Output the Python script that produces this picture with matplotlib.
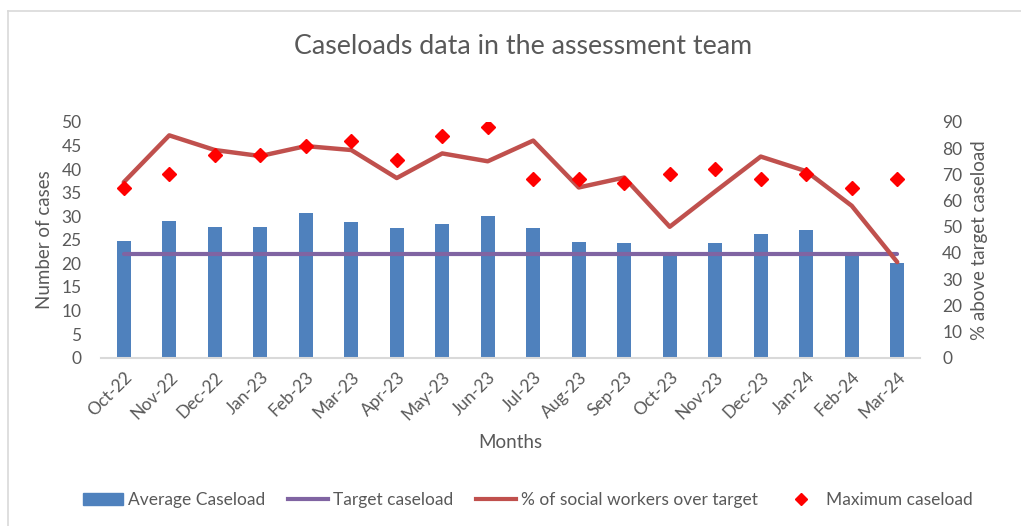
import matplotlib.pyplot as plt
from matplotlib.lines import Line2D
from matplotlib.patches import Patch
import numpy as np

plt.rcParams['font.family'] = ['Lato', 'DejaVu Sans']

months = ['Oct-22', 'Nov-22', 'Dec-22', 'Jan-23', 'Feb-23', 'Mar-23', 'Apr-23', 'May-23', 'Jun-23',
          'Jul-23', 'Aug-23', 'Sep-23', 'Oct-23', 'Nov-23', 'Dec-23', 'Jan-24', 'Feb-24', 'Mar-24']
avg_caseload = [24.8, 29.0, 27.7, 27.7, 30.6, 28.8, 27.5, 28.4, 30.1,
                27.5, 24.6, 24.3, 21.8, 24.3, 26.3, 27.0, 21.9, 20.1]
target_caseload = [22] * 18
pct_over_target = [67.0, 84.9, 79.3, 77.0, 80.8, 79.3, 68.6, 78.0, 75.0,
                   82.9, 65.0, 68.8, 50.0, 63.5, 76.8, 71.2, 58.0, 36.5]
max_caseload = [36, 39, 43, 43, 45, 46, 42, 47, 49, 38, 38, 37, 39, 40, 38, 39, 36, 38]

grey = '#595959'
c_bar = '#4F81BD'
c_target = '#8064A2'
c_pct = '#C0504D'
c_max = '#FF0000'

x = np.arange(len(months))

fig = plt.figure(figsize=(10.21, 5.26), dpi=100)
ax = fig.add_axes([101 / 1021, 1 - 357.7 / 526, 819 / 1021, 235.7 / 526])
ax2 = ax.twinx()

# bars and target on the left axis
ax.bar(x, avg_caseload, width=0.31, color=c_bar, zorder=2)
ax.plot(x, target_caseload, color=c_target, linewidth=3, solid_capstyle='round', zorder=3)

# % line on right axis, diamonds on top of it (left axis scale)
ax2.plot(x, pct_over_target, color=c_pct, linewidth=3.2, solid_capstyle='round', zorder=3)
ax2.plot(x, max_caseload, linestyle='none', marker='D', markersize=7.2, color=c_max,
         transform=ax.transData, zorder=4)

ax.set_xlim(-0.5, len(months) - 0.5)
ax.set_ylim(0, 50)
ax2.set_ylim(0, 90)
ax.set_yticks(range(0, 51, 5))
ax2.set_yticks(range(0, 91, 10))
ax.set_xticks(x)
ax.set_xticklabels(months, rotation=45, ha='right', rotation_mode='anchor')

for a in (ax, ax2):
    for s in a.spines.values():
        s.set_visible(False)
    a.tick_params(length=0, colors=grey, labelsize=12.5)
ax.spines['bottom'].set_visible(True)
ax.spines['bottom'].set_color('#D9D9D9')
ax.spines['bottom'].set_linewidth(1.5)
ax.tick_params(axis='y', pad=14)
ax2.tick_params(axis='y', pad=16)
ax.tick_params(axis='x', pad=8)

ax.set_ylabel('Number of cases', color=grey, fontsize=13.5, labelpad=6)
ax2.set_ylabel('% above target caseload', color=grey, fontsize=13.5, labelpad=6)
ax.set_xlabel('Months', color=grey, fontsize=13.5, labelpad=8)
fig.text(0.512, 1 - 46 / 526, 'Caseloads data in the assessment team', color=grey,
         fontsize=19.3, ha='center', va='center')

handles = [Patch(color=c_bar),
           Line2D([], [], color=c_target, linewidth=3),
           Line2D([], [], color=c_pct, linewidth=3),
           Line2D([], [], linestyle='none', marker='D', markersize=6, color=c_max)]
labels = ['Average Caseload', 'Target caseload', '% of social workers over target', 'Maximum caseload']
leg = fig.legend(handles, labels, loc='center', bbox_to_anchor=(0.517, 1 - 500 / 526), ncol=4,
                 frameon=False, fontsize=12.5, handlelength=2.3, handletextpad=0.3, columnspacing=1.3)
for t in leg.get_texts():
    t.set_color(grey)

# chart border (top and left visible)
fig.add_artist(Line2D([8 / 1021, 8 / 1021], [0, 1 - 11 / 526], transform=fig.transFigure,
                      color='#D9D9D9', linewidth=1.2))
fig.add_artist(Line2D([8 / 1021, 1], [1 - 11 / 526, 1 - 11 / 526], transform=fig.transFigure,
                      color='#D9D9D9', linewidth=1.2))

fig.savefig('out.png', dpi=100, facecolor='white')
